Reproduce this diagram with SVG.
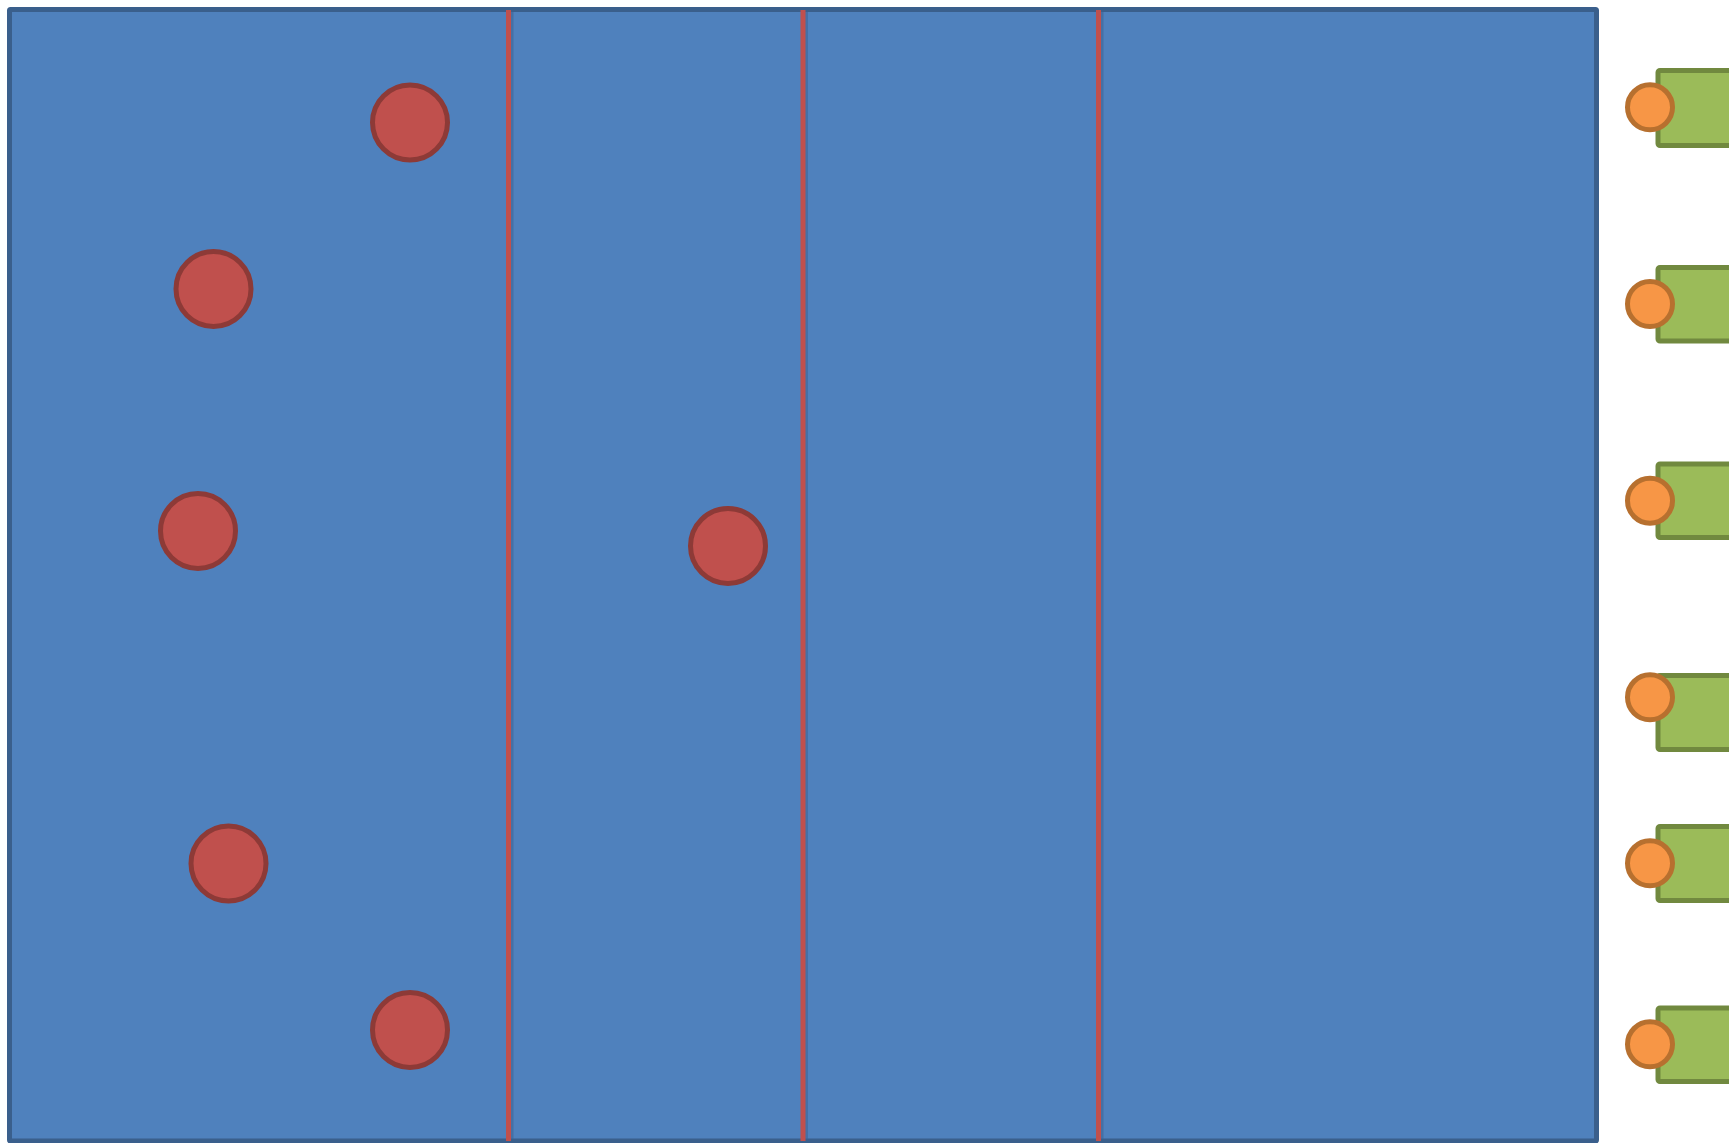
<svg xmlns="http://www.w3.org/2000/svg" width="1729" height="1143" viewBox="0 0 1729 1143">
<style>
.board{fill:#4f81bd;stroke:#3a5f8c;stroke-width:5}
.div{stroke:#c0504d;stroke-width:5}
.shadow{stroke:#3f6596;stroke-width:3;opacity:0.6}
.red{fill:#c0504d;stroke:#8d3a37;stroke-width:5}
.box{fill:#9bbb59;stroke:#71893f;stroke-width:5}
.dot{fill:#f79646;stroke:#b7702f;stroke-width:5}
</style>
<rect width="1729" height="1143" fill="#ffffff"/>
<g id="board">
<rect class="board" x="9.5" y="9.5" width="1587" height="1131.5" rx="1"/>
</g>
<g id="dividers">
<line class="shadow" x1="512" y1="12" x2="512" y2="1139"/>
<line class="shadow" x1="806.5" y1="12" x2="806.5" y2="1139"/>
<line class="shadow" x1="1102" y1="12" x2="1102" y2="1139"/>
<line class="div" x1="508.5" y1="10" x2="508.5" y2="1141"/>
<line class="div" x1="803" y1="10" x2="803" y2="1141"/>
<line class="div" x1="1098.5" y1="10" x2="1098.5" y2="1141"/>
</g>
<g id="red1"><circle class="red" cx="410" cy="122.5" r="37.5"/></g>
<g id="red2"><circle class="red" cx="213.5" cy="289" r="37.5"/></g>
<g id="red3"><circle class="red" cx="198" cy="531" r="37.5"/></g>
<g id="red4"><circle class="red" cx="228.5" cy="863.5" r="37.5"/></g>
<g id="red5"><circle class="red" cx="410" cy="1030" r="37.5"/></g>
<g id="red6"><circle class="red" cx="728" cy="546" r="37.5"/></g>
<g id="slot1"><rect class="box" x="1658" y="70.5" width="90" height="75" rx="2"/><circle class="dot" cx="1650" cy="107.3" r="22.5"/></g>
<g id="slot2"><rect class="box" x="1658" y="267.5" width="90" height="73.5" rx="2"/><circle class="dot" cx="1650" cy="304" r="22.5"/></g>
<g id="slot3"><rect class="box" x="1658" y="464" width="90" height="73.5" rx="2"/><circle class="dot" cx="1650" cy="500.7" r="22.5"/></g>
<g id="slot4"><rect class="box" x="1658" y="675.5" width="90" height="74" rx="2"/><circle class="dot" cx="1650" cy="697.3" r="22.5"/></g>
<g id="slot5"><rect class="box" x="1658" y="826.5" width="90" height="74" rx="2"/><circle class="dot" cx="1650" cy="863.3" r="22.5"/></g>
<g id="slot6"><rect class="box" x="1658" y="1008" width="90" height="73.5" rx="2"/><circle class="dot" cx="1650" cy="1044.3" r="22.5"/></g>
<g id="connectors"></g>
</svg>
